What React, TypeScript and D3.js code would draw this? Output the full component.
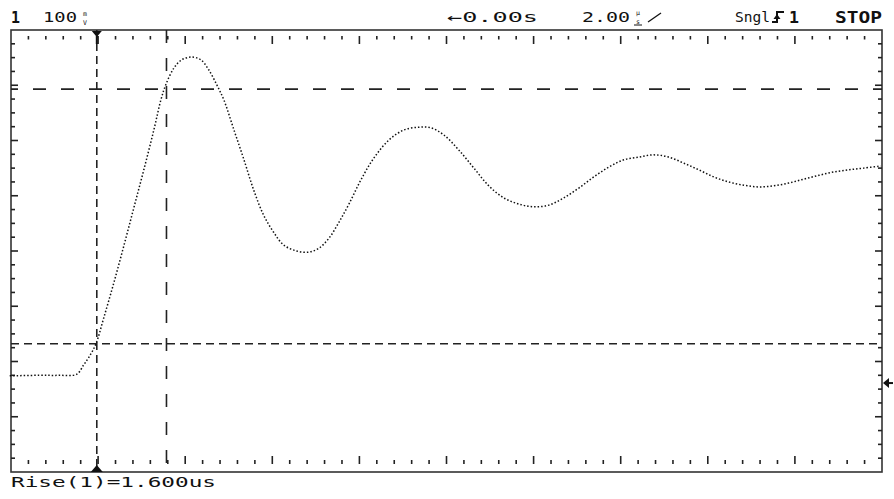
import React, { useEffect, useRef } from 'react';
import * as d3 from 'd3';

// scope trace: time in µs, level in mV (2 µs/div, 100 mV/div)
const timeUs = [
  -2.0, -1.33, -0.87, -0.46, -0.3, -0.18, -0.02, 0.16, 0.39, 0.62, 0.85, 1.08, 1.31, 1.47, 1.58,
  1.77, 1.95, 2.18, 2.39, 2.57, 2.76, 2.92, 3.15, 3.38, 3.6, 3.83, 4.06, 4.29, 4.59, 4.87, 5.1,
  5.33, 5.56, 5.79, 6.06, 6.36, 6.71, 7.05, 7.39, 7.67, 7.97, 8.31, 8.66, 9.0, 9.35, 9.69, 10.03,
  10.38, 10.72, 11.07, 11.41, 11.76, 12.1, 12.45, 12.79, 13.13, 13.48, 13.82, 14.17, 14.51, 14.86,
  15.2, 15.55, 15.89, 16.23, 16.58, 16.92, 17.27, 17.61, 18.0,
];
const levelMv = [
  13, 14, 14, 16, 33, 47, 71, 118, 181, 248, 317, 386, 458, 512, 539,
  570, 585, 590, 585, 567, 539, 512, 458, 404, 350, 304, 273, 250, 239, 237, 244,
  262, 291, 324, 367, 407, 440, 458, 463, 462, 449, 422, 389, 357, 335, 324, 319,
  322, 335, 353, 373, 391, 404, 409, 413, 409, 398, 386, 373, 364, 358,
  355, 357, 362, 369, 376, 382, 386, 389, 393,
];

// rise-time measurement cursors
const cursorTimes = [0, 1.6]; // µs, start / stop
const cursorLevels = [71, 532]; // mV, 10% / 90%
const groundLevel = 0; // mV

// screen labels
const channelLabel = '1';
const scaleLabel = '100';
const scaleUnit = ['m', 'V'];
const delayLabel = '←0.00s';
const timebaseLabel = '2.00';
const timebaseUnit = ['µ', 's'];
const modeLabel = 'Sngl';
const triggerSource = '1';
const runState = 'STOP';
const measurement = 'Rise(1)=1.600us';

const W = 894;
const H = 499;
const left = 11, right = 882, top = 30, bottom = 472;
const FONT = '"DejaVu Sans Mono", monospace';
const INK = '#111';

export default function App() {
  const svgRef = useRef<SVGSVGElement>(null);

  useEffect(() => {
    const svg = d3.select(svgRef.current);
    svg.selectAll('*').remove();

    // graticule in divisions, signal in units
    const xDiv = d3.scaleLinear().domain([0, 10]).range([left, right]);
    const yDiv = d3.scaleLinear().domain([0, 8]).range([bottom, top]);
    const x = d3.scaleLinear().domain([-1.97, 18.03]).range([left, right]);
    const y = d3.scaleLinear().domain([-161, 639]).range([bottom, top]);

    svg.append('rect').attr('width', W).attr('height', H).attr('fill', '#fff');

    // frame
    svg.append('rect')
      .attr('x', left).attr('y', top)
      .attr('width', right - left).attr('height', bottom - top)
      .attr('fill', 'none').attr('stroke', '#333').attr('stroke-width', 1.6);

    const isMajor = (d: number) => Math.abs(d - Math.round(d)) < 1e-6;
    const xTicks = d3.range(0.2, 9.99, 0.2);
    const yTicks = d3.range(0.25, 7.99, 0.25);

    const g = svg.append('g').attr('stroke', '#222').attr('stroke-width', 1.6);
    // top and bottom tick rows
    g.selectAll('.tTop').data(xTicks).enter().append('line')
      .attr('x1', (d) => xDiv(d)).attr('x2', (d) => xDiv(d))
      .attr('y1', 36).attr('y2', (d) => (isMajor(d) ? 44 : 39.5));
    g.selectAll('.tBot').data(xTicks).enter().append('line')
      .attr('x1', (d) => xDiv(d)).attr('x2', (d) => xDiv(d))
      .attr('y1', (d) => (isMajor(d) ? 456 : 460)).attr('y2', 464);
    // left and right ticks, attached to the frame
    g.selectAll('.tL').data(yTicks).enter().append('line')
      .attr('y1', (d) => yDiv(d)).attr('y2', (d) => yDiv(d))
      .attr('x1', left).attr('x2', (d) => left + (isMajor(d) ? 7 : 4));
    g.selectAll('.tR').data(yTicks).enter().append('line')
      .attr('y1', (d) => yDiv(d)).attr('y2', (d) => yDiv(d))
      .attr('x1', right).attr('x2', (d) => right - (isMajor(d) ? 7 : 4));

    // cursors: start cursor & lower level short dashed, stop cursor & upper level long dashed
    const cur = svg.append('g').attr('stroke', '#222').attr('stroke-width', 1.6).attr('fill', 'none');
    cursorTimes.forEach((t, i) => {
      cur.append('line')
        .attr('x1', x(t)).attr('x2', x(t)).attr('y1', top).attr('y2', bottom)
        .attr('stroke-dasharray', i === 0 ? '8 5' : '13 15');
    });
    cursorLevels.forEach((v, i) => {
      cur.append('line')
        .attr('x1', left).attr('x2', right).attr('y1', y(v)).attr('y2', y(v))
        .attr('stroke-dasharray', i === 0 ? '8 5' : '13 15')
        .attr('stroke-dashoffset', i === 0 ? 0 : 6);
    });

    // trace
    const pts = timeUs.map((t, i) => [t, levelMv[i]] as [number, number]);
    const line = d3.line<[number, number]>()
      .x((d) => x(d[0]))
      .y((d) => y(d[1]))
      .curve(d3.curveCatmullRom.alpha(0.5));
    svg.append('path')
      .attr('d', line(pts))
      .attr('fill', 'none')
      .attr('stroke', INK)
      .attr('stroke-width', 1.5)
      .attr('stroke-dasharray', '1.5 2');

    // trigger markers at t = 0
    const tx = x(0);
    svg.append('path')
      .attr('d', `M${tx - 5},31 L${tx + 5},31 L${tx},37 Z`)
      .attr('fill', INK);
    svg.append('line').attr('x1', tx).attr('x2', tx).attr('y1', 36).attr('y2', 44)
      .attr('stroke', INK).attr('stroke-width', 2);
    svg.append('path')
      .attr('d', `M${tx - 6},472 L${tx + 6},472 L${tx},465 Z`)
      .attr('fill', INK);

    // ground reference arrow
    const gy = y(groundLevel);
    svg.append('path')
      .attr('d', `M${right + 1},${gy} L${right + 7},${gy - 5} L${right + 7},${gy + 5} Z`)
      .attr('fill', INK);
    svg.append('line').attr('x1', right + 6).attr('x2', right + 11).attr('y1', gy).attr('y2', gy)
      .attr('stroke', INK).attr('stroke-width', 2);

    // labels
    const text = (s: string, px: number, py: number, len: number, size = 14, weight = 'normal') =>
      svg.append('text')
        .attr('x', px).attr('y', py)
        .attr('font-family', FONT).attr('font-size', size).attr('font-weight', weight)
        .attr('fill', INK)
        .attr('textLength', len).attr('lengthAdjust', 'spacingAndGlyphs')
        .text(s);

    // stacked unit glyph: two small texts, one above the other
    const stacked = (parts: string[], px: number, py1: number, py2: number) => {
      parts.forEach((p, i) => {
        svg.append('text')
          .attr('x', px).attr('y', i === 0 ? py1 : py2)
          .attr('font-family', FONT).attr('font-size', 6.5).attr('fill', INK)
          .attr('text-anchor', 'middle')
          .text(p);
      });
    };

    text(channelLabel, 11, 23, 9, 15, 'bold');
    text(scaleLabel, 43, 22, 34);
    stacked(scaleUnit, 85, 15.5, 24.5);

    text(delayLabel, 447, 22, 91);
    text(timebaseLabel, 582, 22, 48);
    stacked(timebaseUnit, 638, 15, 23.5);
    svg.append('line').attr('x1', 634).attr('x2', 642).attr('y1', 25).attr('y2', 25)
      .attr('stroke', INK).attr('stroke-width', 1);
    svg.append('line').attr('x1', 648).attr('x2', 661).attr('y1', 22).attr('y2', 13)
      .attr('stroke', INK).attr('stroke-width', 1.3);

    text(modeLabel, 735, 22, 35);
    // rising edge trigger glyph
    svg.append('path')
      .attr('d', 'M772,22 H777 V12 H784')
      .attr('fill', 'none').attr('stroke', INK).attr('stroke-width', 2);
    svg.append('path')
      .attr('d', 'M773.5,19 L777,14 L780.5,19 Z')
      .attr('fill', INK);
    text(triggerSource, 789, 23, 10, 15, 'bold');
    text(runState, 835, 23, 47, 15, 'bold');

    text(measurement, 11, 487, 205);
  }, []);

  return (
    <div style={{ position: 'absolute', left: 0, top: 0 }}>
      <svg ref={svgRef} width={W} height={H} style={{ display: 'block' }}></svg>
    </div>
  );
}
